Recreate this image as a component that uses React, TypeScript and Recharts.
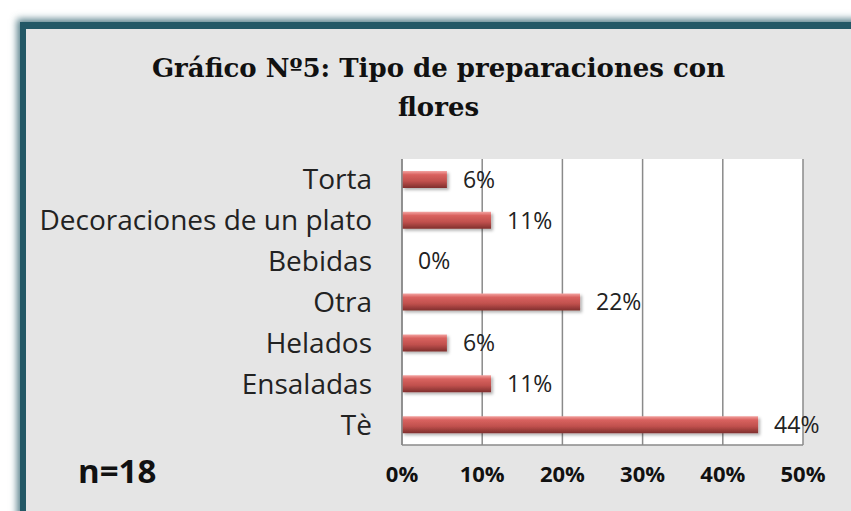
import React from "react";
import { BarChart, Bar, XAxis, YAxis, CartesianGrid, LabelList, Rectangle } from "recharts";

// categories top to bottom, as in the reference
const categories = [
  "Torta",
  "Decoraciones de un plato",
  "Bebidas",
  "Otra",
  "Helados",
  "Ensaladas",
  "Tè",
];
const percentages = [5.6, 11.1, 0, 22.2, 5.6, 11.1, 44.4];
const xTicks = [0, 10, 20, 30, 40, 50];

const data = categories.map((name, i) => ({ name, value: percentages[i] }));

const sans = "'Open Sans', Lato, sans-serif";
const gridColor = "#8a8a8a";

// zero bars still need a (tiny) rect so the label is placed; don't paint it
const BarShape = (props: any) => {
  if (!props.value) return null;
  return <Rectangle {...props} />;
};

const App: React.FC = () => {
  return (
    <div style={{ position: "fixed", left: 0, top: 0, width: 851, height: 511, background: "#fff", overflow: "hidden" }}>
      {/* framed grey panel */}
      <div
        style={{
          position: "absolute",
          left: 20,
          top: 22,
          width: 851,
          height: 511,
          background: "#e5e5e5",
          borderLeft: "6px solid #235866",
          borderTop: "7px solid #235866",
          boxShadow: "-3px -3px 7px rgba(35, 88, 102, 0.75)",
        }}
      />
      <div
        style={{
          position: "absolute",
          left: 26,
          width: 825,
          top: 49,
          textAlign: "center",
          fontFamily: "'DejaVu Serif', serif",
          fontWeight: "bold",
          fontSize: 26,
          lineHeight: "39px",
          color: "#111",
        }}
      >
        Gráfico Nº5: Tipo de preparaciones con
        <br />
        flores
      </div>
      <div
        style={{
          position: "absolute",
          left: 78,
          top: 448,
          fontFamily: sans,
          fontWeight: "bold",
          fontSize: 33,
          lineHeight: "46px",
          color: "#111",
        }}
      >
        n=18
      </div>
      <div style={{ position: "absolute", left: 0, top: 0 }}>
        <BarChart
          width={851}
          height={511}
          data={data}
          layout="vertical"
          margin={{ top: 159, right: 48, bottom: 16, left: 0 }}
          barSize={17}
        >
          <defs>
            <linearGradient id="barFill" x1="0" y1="0" x2="0" y2="1">
              <stop offset="0%" stopColor="#f3a3a1" />
              <stop offset="22%" stopColor="#d9625f" />
              <stop offset="60%" stopColor="#c0504d" />
              <stop offset="100%" stopColor="#7f2f2d" />
            </linearGradient>
            <filter id="barShadow" x="-5%" y="-30%" width="115%" height="180%">
              <feDropShadow dx="2" dy="2" stdDeviation="1.5" floodColor="#000" floodOpacity="0.3" />
            </filter>
          </defs>
          <CartesianGrid horizontal={false} fill="#ffffff" stroke={gridColor} strokeWidth={1.5} />
          <XAxis
            type="number"
            domain={[0, 50]}
            ticks={xTicks}
            tickFormatter={(v) => `${v}%`}
            height={50}
            tickLine={false}
            axisLine={{ stroke: gridColor, strokeWidth: 1.5 }}
            tickMargin={15}
            tick={{ fontFamily: sans, fontWeight: "bold", fontSize: 22, fill: "#111" }}
          />
          <YAxis
            type="category"
            dataKey="name"
            width={402}
            tickLine={false}
            axisLine={{ stroke: gridColor, strokeWidth: 1.5 }}
            tickMargin={24}
            interval={0}
            tick={{ fontFamily: sans, fontSize: 28, fill: "#222" }}
          />
          <Bar
            dataKey="value"
            fill="url(#barFill)"
            filter="url(#barShadow)"
            minPointSize={(v: number) => (v === 0 ? 0.1 : 0)}
            shape={BarShape}
            isAnimationActive={false}
          >
            <LabelList
              dataKey="value"
              position="right"
              offset={16}
              formatter={(v: number) => `${Math.round(v)}%`}
              style={{ fontFamily: sans, fontSize: 23, fill: "#222" }}
            />
          </Bar>
        </BarChart>
      </div>
    </div>
  );
};

export default App;
